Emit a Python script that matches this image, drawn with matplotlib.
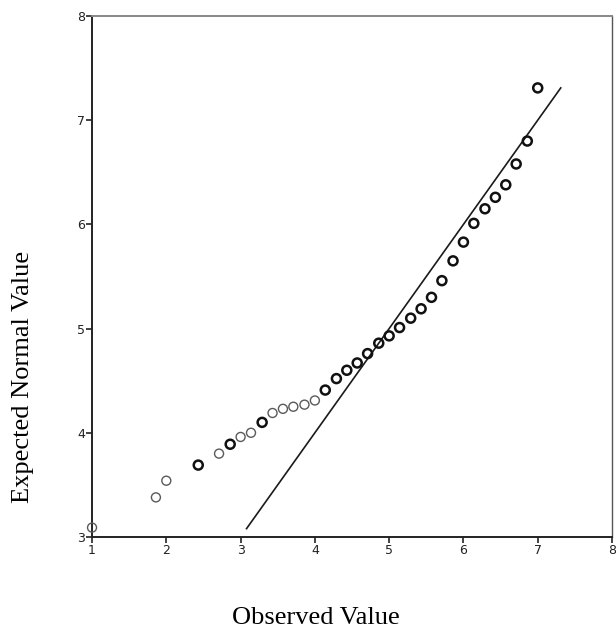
import matplotlib
matplotlib.use('Agg')
from matplotlib import pyplot as plt
import numpy as np

# observed values (x) and expected normal values (y)
observed = [1.0, 1.86, 2.0, 2.43, 2.71, 2.86, 3.0, 3.14, 3.29, 3.43, 3.57, 3.71, 3.86, 4.0,
            4.14, 4.29, 4.43, 4.57, 4.71, 4.86, 5.0, 5.14, 5.29, 5.43, 5.57, 5.71, 5.86,
            6.0, 6.14, 6.29, 6.43, 6.57, 6.71, 6.86, 7.0]
expected = [3.09, 3.38, 3.54, 3.69, 3.80, 3.89, 3.96, 4.00, 4.10, 4.19, 4.23, 4.25, 4.27, 4.31,
            4.41, 4.52, 4.60, 4.67, 4.76, 4.86, 4.93, 5.01, 5.10, 5.19, 5.30, 5.46, 5.65,
            5.83, 6.01, 6.15, 6.26, 6.38, 6.58, 6.80, 7.31]
# repeated points are drawn heavier
repeated = [0, 0, 0, 1, 0, 1, 0, 0, 1, 0, 0, 0, 0, 0,
            1, 1, 1, 1, 1, 1, 1, 1, 1, 1, 1, 1, 1,
            1, 1, 1, 1, 1, 1, 1, 1]
line_x = [3.08, 7.31]

fig = plt.figure(figsize=(6.16, 6.33), dpi=100)
ax = fig.add_axes([0.1494, 0.1517, 0.8441, 0.8230])

obs = np.array(observed)
exp = np.array(expected)
rep = np.array(repeated, dtype=bool)

ax.plot(line_x, line_x, color='#1a1a1a', lw=1.2, zorder=2)
ax.scatter(obs[~rep], exp[~rep], s=42, facecolors='none', edgecolors='#5a5a5a',
           linewidths=1.0, zorder=3, clip_on=False)
ax.scatter(obs[rep], exp[rep], s=42, facecolors='none', edgecolors='#111111',
           linewidths=1.8, zorder=3, clip_on=False)

ax.set_xlim(1, 8)
ax.set_ylim(3, 8)
ax.set_xticks(range(1, 9))
ax.set_yticks(range(3, 9))
ax.tick_params(direction='out', length=4, width=1.2, colors='#222222', labelsize=9, pad=1)

ax.spines['left'].set_color('#222222')
ax.spines['bottom'].set_color('#222222')
ax.spines['left'].set_linewidth(1.4)
ax.spines['bottom'].set_linewidth(1.4)
ax.spines['top'].set_color('#888888')
ax.spines['right'].set_color('#555555')
ax.spines['top'].set_linewidth(1.4)
ax.spines['right'].set_linewidth(1.0)

fig.text(0.513, 0.024, 'Observed Value', family='Liberation Serif', fontsize=19,
         ha='center', va='center')
fig.text(0.037, 0.404, 'Expected Normal Value', family='Liberation Serif', fontsize=19,
         ha='center', va='center', rotation=90)

fig.savefig('out.png', dpi=100)
